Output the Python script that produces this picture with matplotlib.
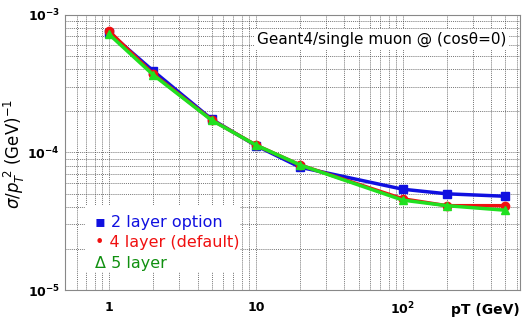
import matplotlib
matplotlib.use("Agg")
import matplotlib.pyplot as plt
from matplotlib.patches import Rectangle

pt = [1, 2, 5, 10, 20, 100, 200, 500]
res_2layer = [7.4e-4, 3.9e-4, 1.74e-4, 1.12e-4, 7.8e-5, 5.4e-5, 5.0e-5, 4.8e-5]
res_4layer = [7.6e-4, 3.7e-4, 1.72e-4, 1.13e-4, 8.1e-5, 4.6e-5, 4.1e-5, 4.1e-5]
res_5layer = [7.2e-4, 3.65e-4, 1.71e-4, 1.13e-4, 8.1e-5, 4.5e-5, 4.1e-5, 3.8e-5]

legend_labels = ["\u25aa 2 layer option", "\u2022 4 layer (default)", "\u0394 5 layer"]
legend_colors = ["#1010e0", "#f01010", "#109010"]

fig = plt.figure(figsize=(5.28, 3.27), dpi=100)
ax = fig.add_axes([0.123, 0.113, 0.862, 0.842])

ax.plot(pt, res_2layer, color="#1010e0", lw=2.5, marker="s", ms=6, zorder=3)
ax.plot(pt, res_4layer, color="#f01010", lw=2.5, marker="o", ms=6, zorder=4)
ax.plot(pt, res_5layer, color="#20e020", lw=2.5, marker="^", ms=6, zorder=5)

ax.set_xscale("log")
ax.set_yscale("log")
ax.set_xlim(0.5, 630)
ax.set_ylim(1e-5, 1e-3)

ax.grid(True, which="both", color="#444444", ls=(0, (1.5, 1.5)), lw=0.5)
ax.tick_params(which="both", length=0, labelsize=9)
ax.set_xticks([1, 10, 100])
ax.set_xticklabels(["1", "10", r"$\mathbf{10^2}$"])
ax.set_yticks([1e-5, 1e-4, 1e-3])
ax.set_yticklabels([r"$\mathbf{10^{-5}}$", r"$\mathbf{10^{-4}}$", r"$\mathbf{10^{-3}}$"])
for lab in ax.get_xticklabels() + ax.get_yticklabels():
    lab.set_fontweight("bold")
ax.tick_params(axis="x", pad=8)
for s in ax.spines.values():
    s.set_color("#888888")

ax.text(0.97, 0.91, "Geant4/single muon @ (cos\u03b8=0)", transform=ax.transAxes,
        ha="right", va="center", fontsize=11,
        bbox=dict(facecolor="white", edgecolor="none", pad=2))

# hand-made legend: white box with coloured text lines
ax.add_patch(Rectangle((0.044, 0.065), 0.34, 0.245, transform=ax.transAxes,
                       facecolor="white", edgecolor="none", zorder=6))
for i, (lab, col) in enumerate(zip(legend_labels, legend_colors)):
    ax.text(0.065, 0.247 - i * 0.075, lab, transform=ax.transAxes,
            color=col, fontsize=11.5, va="center", zorder=7)

fig.text(0.027, 0.53, r"$\sigma/p_T^{\ 2}$ (GeV)$^{-1}$", rotation=90,
         ha="center", va="center", fontsize=12)
fig.text(0.985, 0.03, "pT (GeV)", ha="right", va="bottom",
         fontsize=10, fontweight="bold")

fig.savefig("out.png", dpi=100)
